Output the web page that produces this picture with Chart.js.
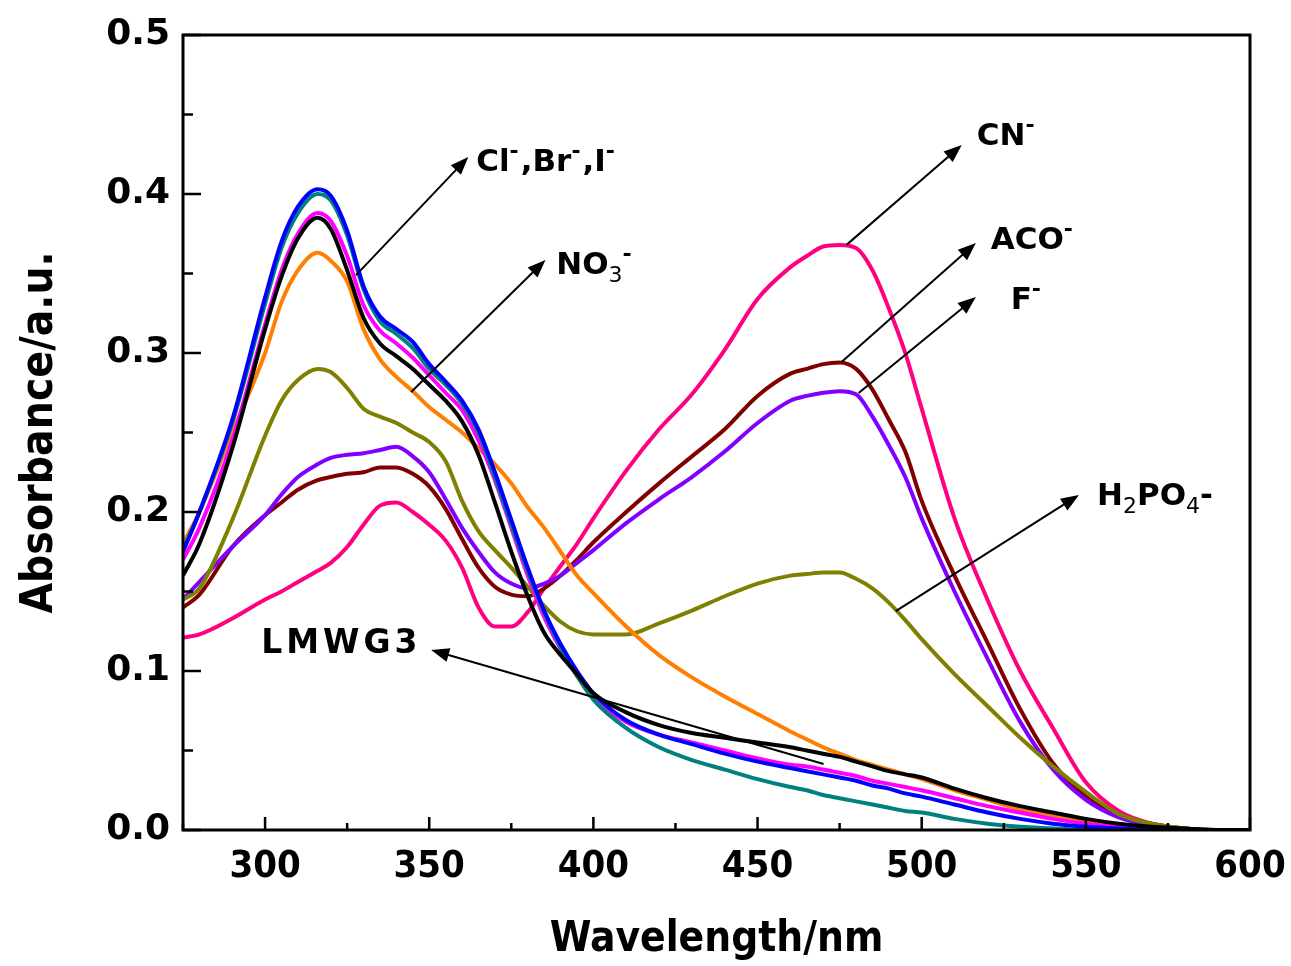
<!DOCTYPE html>
<html lang="en">
<head>
<meta charset="UTF-8">
<title>Absorbance spectra</title>
<script src="https://cdn.jsdelivr.net/npm/chart.js"></script>
<style>
  body { margin: 0; background: #fff; }
  #wrap { width: 1291px; height: 966px; }
</style>
</head>
<body>
<div id="wrap"><canvas id="spectra" width="1291" height="966"></canvas></div>
<script>
// wavelength grid (nm)
const wavelength = [275,280,290,300,305,310,316,320, 325,330,335,340,345,350,355,360,
                    365,370,375,380,385,390,395,400, 410,420,430,440,450,460,465,470,
                    475,480,485,490,495,500,510,520, 530,540,550,560,570,580,590,600];

const lmwg3 = [.160,.180,.240,.315,.348,.372,.385,.378, .352,.322,.306,.298,.290,.280,.270,.257,
               .236,.206,.175,.147,.124,.110,.098,.086, .074,.066,.061,.058,.055,.052,.050,.048,
               .046,.043,.040,.037,.035,.033,.026,.020, .015,.011,.007,.004,.002,.001,0,0];
const chloride = [.175,.200,.258,.335,.370,.392,.403,.399, .377,.342,.323,.315,.307,.293,.282,.270,
                  .252,.225,.195,.165,.138,.117,.100,.086, .069,.060,.054,.048,.043,.039,.037,.035,
                  .033,.031,.028,.026,.023,.021,.016,.011, .007,.004,.002,.001,0,0,0,0];
const bromide = [.176,.200,.256,.331,.366,.388,.400,.396, .374,.340,.320,.312,.303,.290,.280,.268,
                 .250,.222,.192,.163,.137,.115,.097,.082, .064,.052,.044,.038,.032,.027,.025,.022,
                 .020,.018,.016,.014,.012,.011,.007,.004, .002,.001,0,0,0,0,0,0];
const iodide = [.170,.190,.245,.318,.352,.375,.388,.383, .361,.330,.314,.306,.297,.286,.275,.264,
                .245,.220,.190,.160,.134,.114,.097,.083, .068,.060,.055,.050,.045,.041,.040,.038,
                .036,.034,.031,.029,.027,.025,.020,.015, .011,.007,.004,.002,.001,0,0,0];
const nitrate = [.180,.200,.250,.300,.332,.352,.363,.358, .345,.315,.296,.285,.276,.266,.258,.250,
                 .240,.230,.218,.203,.190,.175,.160,.149, .128,.110,.096,.084,.073,.062,.057,.052,
                 .048,.044,.041,.038,.035,.032,.025,.019, .013,.009,.005,.003,.001,0,0,0];
const phosphate = [.145,.152,.195,.248,.270,.283,.290,.288, .278,.265,.260,.256,.250,.244,.232,.207,
                   .188,.176,.165,.153,.141,.131,.125,.123, .123,.130,.138,.147,.155,.160,.161,.162,
                   .162,.158,.152,.143,.132,.120,.098,.078, .058,.040,.024,.010,.004,.001,0,0];
const fluoride = [.145,.156,.178,.198,.211,.222,.230,.234, .236,.237,.239,.241,.235,.225,.208,.190,
                  .175,.162,.155,.152,.155,.160,.168,.176, .193,.208,.222,.238,.256,.270,.273,.275,
                  .276,.274,.260,.242,.222,.196,.150,.108, .068,.038,.019,.008,.003,.001,0,0];
const acetate = [.140,.148,.178,.198,.206,.214,.220,.222, .224,.225,.228,.228,.224,.216,.202,.183,
                 .165,.153,.148,.147,.152,.160,.170,.181, .200,.218,.235,.252,.273,.287,.290,.293,
                 .294,.290,.277,.258,.238,.207,.160,.118, .076,.042,.021,.009,.004,.001,0,0];
const cyanide = [.121,.123,.133,.145,.150,.156,.163,.168, .178,.192,.204,.206,.200,.192,.182,.165,
                 .140,.128,.128,.137,.152,.166,.180,.196, .226,.252,.274,.302,.334,.354,.361,.367,
                 .368,.366,.352,.328,.300,.265,.196,.145, .100,.064,.030,.012,.004,.001,0,0];

const xTicks = [300, 350, 400, 450, 500, 550, 600];
const yTicks = [0, 0.1, 0.2, 0.3, 0.4, 0.5];

const wide = "'DejaVu Sans', Verdana, sans-serif";
const narrow = "'DejaVu Sans Condensed', 'Liberation Sans Narrow', 'DejaVu Sans', sans-serif";

function series(label, values, color) {
  return {
    label: label,
    data: values.map((v, i) => ({ x: wavelength[i], y: v })),
    borderColor: color,
    borderWidth: 4,
    pointRadius: 0,
    cubicInterpolationMode: 'monotone',
    fill: false
  };
}

// labels with arrows, placed in data units (nm, absorbance)
// parts: [text, 'n' | 'sup' | 'sub']
const notes = [
  { parts: [['Cl','n'],['-','sup'],[',Br','n'],['-','sup'],[',I','n'],['-','sup']], at: [364.3, 0.4195], from: [327.7, 0.349], to: [361.9, 0.4233] },
  { parts: [['NO','n'],['3','sub'],['-','sup']], at: [388.7, 0.3547], from: [344.5, 0.2755], to: [385.4, 0.3585] },
  { parts: [['CN','n'],['-','sup']], at: [516.8, 0.4358], from: [477.1, 0.368], to: [512.2, 0.4308] },
  { parts: [['ACO','n'],['-','sup']], at: [521.0, 0.3704], from: [475.6, 0.2943], to: [516.5, 0.3692] },
  { parts: [['F','n'],['-','sup']], at: [527.1, 0.3327], from: [480.8, 0.2748], to: [516.5, 0.3352] },
  { parts: [['H','n'],['2','sub'],['PO','n'],['4','sub'],['-','n']], at: [553.4, 0.2094], from: [492.1, 0.1377], to: [547.9, 0.2107] },
  { parts: [['LMWG3','n']], at: [298.8, 0.117], from: [470.1, 0.0415], to: [350.6, 0.1132], spacing: 4, size: 33 }
];

function arrow(ctx, x1, y1, x2, y2) {
  const a = Math.atan2(y2 - y1, x2 - x1);
  const len = 18, w = 7;
  ctx.beginPath();
  ctx.moveTo(x1, y1);
  ctx.lineTo(x2 - Math.cos(a) * len * 0.8, y2 - Math.sin(a) * len * 0.8);
  ctx.stroke();
  ctx.beginPath();
  ctx.moveTo(x2, y2);
  ctx.lineTo(x2 - len * Math.cos(a) + w * Math.sin(a), y2 - len * Math.sin(a) - w * Math.cos(a));
  ctx.lineTo(x2 - len * Math.cos(a) - w * Math.sin(a), y2 - len * Math.sin(a) + w * Math.cos(a));
  ctx.closePath();
  ctx.fill();
}

const decorations = {
  id: 'decorations',
  afterDraw(chart) {
    const { ctx, chartArea: a, scales: { x, y } } = chart;
    ctx.save();
    ctx.strokeStyle = '#000';
    ctx.fillStyle = '#000';

    // frame
    ctx.lineWidth = 3;
    ctx.strokeRect(a.left, a.top, a.right - a.left, a.bottom - a.top);

    // inward ticks
    ctx.lineWidth = 2.5;
    ctx.beginPath();
    for (let v = 275; v <= 600; v += 25) {
      if (v < x.min) continue;
      const px = x.getPixelForValue(v);
      ctx.moveTo(px, a.bottom);
      ctx.lineTo(px, a.bottom - (v % 50 === 0 ? 13 : 7));
    }
    for (let i = 0; i <= 10; i++) {
      const py = y.getPixelForValue(i * 0.05);
      ctx.moveTo(a.left, py);
      ctx.lineTo(a.left + (i % 2 === 0 ? 18 : 10), py);
    }
    ctx.stroke();

    // arrows and labels
    ctx.lineWidth = 2;
    ctx.textBaseline = 'middle';
    ctx.textAlign = 'left';
    notes.forEach(n => {
      arrow(ctx, x.getPixelForValue(n.from[0]), y.getPixelForValue(n.from[1]),
                 x.getPixelForValue(n.to[0]), y.getPixelForValue(n.to[1]));
      let px = x.getPixelForValue(n.at[0]);
      const py = y.getPixelForValue(n.at[1]);
      ctx.letterSpacing = (n.spacing || 0) + 'px';
      n.parts.forEach(([t, kind]) => {
        let dy = 0;
        if (kind === 'sup') { ctx.font = 'bold 22px ' + wide; dy = -11; }
        else if (kind === 'sub') { ctx.font = 'normal 22px ' + wide; dy = 10; }
        else { ctx.font = 'bold ' + (n.size || 31) + 'px ' + wide; }
        ctx.fillText(t, px, py + dy);
        px += ctx.measureText(t).width + (kind === 'sup' ? 2 : 0);
      });
      ctx.letterSpacing = '0px';
    });
    ctx.restore();
  }
};

new Chart(document.getElementById('spectra'), {
  type: 'line',
  data: {
    datasets: [
      series('LMWG3', lmwg3, '#000000'),
      series('Cl-', chloride, '#0000ff'),
      series('Br-', bromide, '#008080'),
      series('I-', iodide, '#ff00ff'),
      series('NO3-', nitrate, '#ff8000'),
      series('H2PO4-', phosphate, '#808000'),
      series('F-', fluoride, '#8000ff'),
      series('ACO-', acetate, '#800000'),
      series('CN-', cyanide, '#ff0080')
    ]
  },
  options: {
    responsive: false,
    animation: false,
    layout: { padding: { top: 35, right: 41, left: 0, bottom: 0 } },
    plugins: { legend: { display: false }, tooltip: { enabled: false } },
    scales: {
      x: {
        type: 'linear',
        min: 275,
        max: 600,
        afterBuildTicks: s => { s.ticks = xTicks.map(v => ({ value: v })); },
        afterFit: s => { s.height = 136; s.paddingRight = 0; },
        grid: { display: false, drawTicks: false },
        border: { display: false },
        ticks: { color: '#000', padding: 14, font: { family: narrow, size: 38, weight: 'bold' }, callback: v => String(v) },
        title: { display: true, text: 'Wavelength/nm', color: '#000', padding: { top: 0, bottom: 1 },
                 font: { family: narrow, size: 42, weight: 'bold' } }
      },
      y: {
        min: 0,
        max: 0.5,
        afterBuildTicks: s => { s.ticks = yTicks.map(v => ({ value: v })); },
        afterFit: s => { s.width = 183; s.paddingTop = 0; s.paddingBottom = 0; },
        grid: { display: false, drawTicks: false },
        border: { display: false },
        ticks: { color: '#000', padding: 13, font: { family: wide, size: 36, weight: 'bold' }, callback: v => v.toFixed(1) },
        title: { display: true, text: 'Absorbance/a.u.', color: '#000', padding: { top: 14, bottom: 0 },
                 font: { family: narrow, size: 44, weight: 'bold' } }
      }
    }
  },
  plugins: [decorations]
});
</script>
</body>
</html>
